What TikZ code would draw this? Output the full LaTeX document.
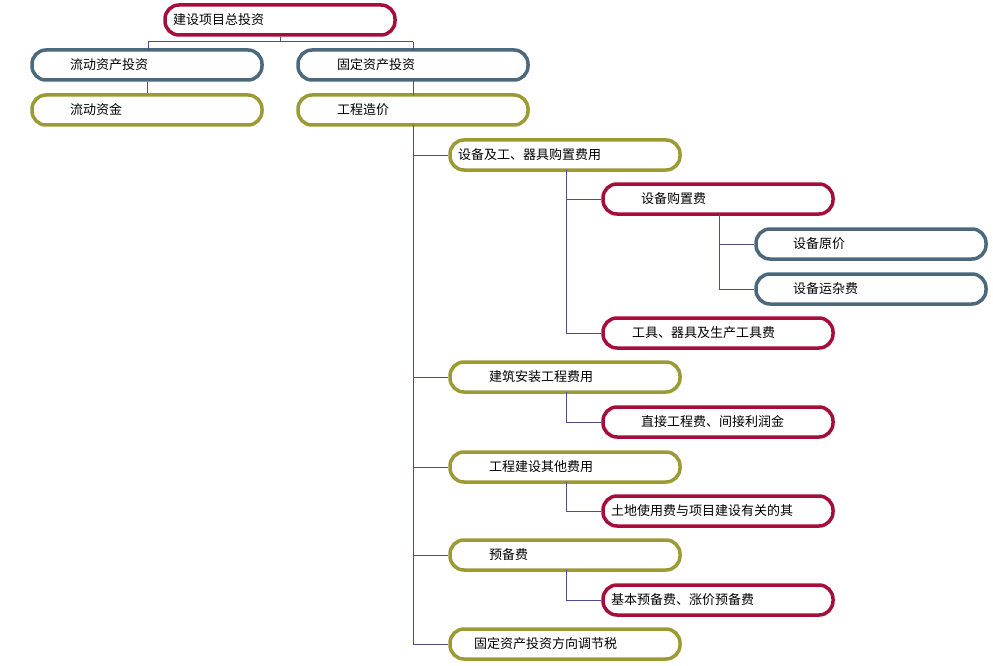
\documentclass[tikz,border=0pt]{standalone}
\usepackage{fontspec}
\newfontfamily\cjk{Noto Sans CJK SC}
\definecolor{cred}{HTML}{A50E3A}
\definecolor{cblue}{HTML}{4C687C}
\definecolor{colive}{HTML}{9C9A34}
\definecolor{cline}{HTML}{4E4C8C}
\begin{document}
\begin{tikzpicture}[x=1pt,y=-1pt,
  bx/.style={draw=#1,line width=3.5pt,rounded corners=14pt,minimum width=230pt,minimum height=30pt,
    inner xsep=0pt,inner ysep=0pt,text width=230pt,align=left,font=\cjk\fontsize{13}{15}\selectfont},
  cn/.style={draw=cline,line width=1pt}]
\useasboundingbox (0,0) rectangle (993,666);
\newcommand\bx[6]{\node[bx=#4] (#1) at (#2+115,#3) {\hspace*{#5pt}#6};}
\bx{a}{165}{20}{cred}{8}{建设项目总投资}
\bx{b}{32}{65}{cblue}{38}{流动资产投资}
\bx{c}{298}{65}{cblue}{39}{固定资产投资}
\bx{d}{32}{110}{colive}{38}{流动资金}
\bx{e}{298}{110}{colive}{39}{工程造价}
\bx{f}{450}{155}{colive}{8}{设备及工、器具购置费用}
\bx{g}{603}{199}{cred}{38}{设备购置费}
\bx{h}{756}{244}{cblue}{37}{设备原价}
\bx{i}{756}{289}{cblue}{37}{设备运杂费}
\bx{j}{603}{333}{cred}{29}{工具、器具及生产工具费}
\bx{k}{450}{377}{colive}{39}{建筑安装工程费用}
\bx{l}{603}{422}{cred}{38}{直接工程费、间接利润金}
\bx{m}{450}{467}{colive}{39}{工程建设其他费用}
\bx{n}{603}{511}{cred}{8}{土地使用费与项目建设有关的其}
\bx{o}{450}{555}{colive}{39}{预备费}
\bx{p}{603}{600}{cred}{8}{基本预备费、涨价预备费}
\bx{q}{450}{644}{colive}{24}{固定资产投资方向调节税}
\coordinate (t1) at (280,42);
\draw[cn] (a.south) -- (t1);
\draw[cn] (148,42) -- (413,42);
\draw[cn] (148,42) -- (148,50);
\draw[cn] (413,42) -- (413,50);
\draw[cn] (b.south) -- (d.north);
\draw[cn] (413,80) -- (413,95);
\foreach \t in {f,k,m,o,q} \draw[cn] (413,125) |- (\t.west);
\foreach \t in {g,j} \draw[cn] (566,170) |- (\t.west);
\foreach \t in {h,i} \draw[cn] (719,214) |- (\t.west);
\draw[cn] (566,392) |- (l.west);
\draw[cn] (566,482) |- (n.west);
\draw[cn] (566,570) |- (p.west);
\end{tikzpicture}
\end{document}
